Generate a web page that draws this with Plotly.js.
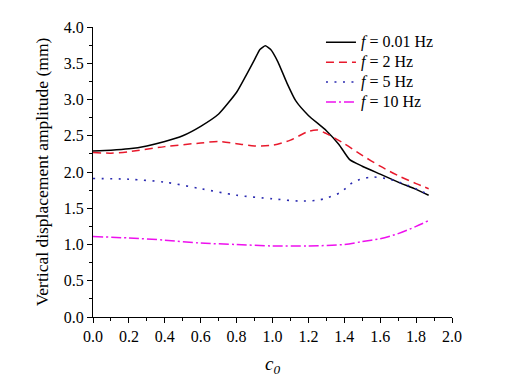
<!DOCTYPE html>
<html>
<head>
<meta charset="utf-8">
<script src="https://cdn.plot.ly/plotly-3.0.1.min.js"></script>
<style>html,body{margin:0;padding:0;background:#fff;}#chart{width:512px;height:377px;}</style>
</head>
<body>
<div id="chart"></div>
<script>
var x001 = [0, 0.1, 0.2, 0.3, 0.4, 0.5, 0.6, 0.7, 0.8, 0.85, 0.9, 0.93, 0.96, 0.99, 1.03, 1.08, 1.13, 1.2, 1.3, 1.37, 1.43, 1.5, 1.6, 1.7, 1.8, 1.87];
var y001 = [2.29, 2.30, 2.32, 2.36, 2.42, 2.50, 2.63, 2.80, 3.10, 3.32, 3.55, 3.69, 3.74, 3.69, 3.52, 3.23, 2.98, 2.78, 2.57, 2.38, 2.17, 2.08, 1.97, 1.86, 1.76, 1.68];
var x2 = [0, 0.1, 0.2, 0.4, 0.6, 0.7, 0.8, 0.9, 1.0, 1.1, 1.2, 1.25, 1.3, 1.4, 1.5, 1.6, 1.7, 1.8, 1.87];
var y2 = [2.27, 2.26, 2.28, 2.35, 2.40, 2.42, 2.39, 2.36, 2.37, 2.44, 2.56, 2.58, 2.53, 2.39, 2.23, 2.08, 1.95, 1.84, 1.77];
var x5 = [0, 0.2, 0.4, 0.6, 0.8, 1.0, 1.15, 1.25, 1.3, 1.38, 1.45, 1.55, 1.65, 1.75, 1.87];
var y5 = [1.91, 1.90, 1.86, 1.77, 1.68, 1.63, 1.60, 1.61, 1.64, 1.72, 1.86, 1.93, 1.90, 1.82, 1.69];
var x10 = [0, 0.2, 0.4, 0.6, 0.8, 1.0, 1.2, 1.4, 1.5, 1.6, 1.7, 1.8, 1.87];
var y10 = [1.11, 1.09, 1.06, 1.02, 1.00, 0.98, 0.98, 1.00, 1.04, 1.08, 1.15, 1.25, 1.33];
var names = ['<i>f</i> = 0.01 Hz', '<i>f</i> = 2 Hz', '<i>f</i> = 5 Hz', '<i>f</i> = 10 Hz'];

var font = "'Liberation Serif', 'Times New Roman', Times, serif";
function big(s) { return '<span style="font-size:16px">' + s + '</span>'; }
var traces = [
  {x: x001, y: y001, name: big(names[0]), mode: 'lines', line: {color: '#000000', width: 1.5, shape: 'spline', smoothing: 0.5}},
  {x: x2, y: y2, name: big(names[1]), mode: 'lines', line: {color: '#e8192c', width: 1.5, dash: '8px,5px', shape: 'spline', smoothing: 0.8}},
  {x: x5, y: y5, name: big(names[2]), mode: 'lines', line: {color: '#2a2ab0', width: 1.6, dash: '2px,6.5px', shape: 'spline', smoothing: 0.8}},
  {x: x10, y: y10, name: big(names[3]), mode: 'lines', line: {color: '#ee10ee', width: 1.5, dash: '10px,3px,2px,3px', shape: 'spline', smoothing: 0.8}}
];

var layout = {
  width: 512, height: 377,
  margin: {l: 92.5, r: 60, t: 26.7, b: 60.3},
  paper_bgcolor: '#ffffff', plot_bgcolor: '#ffffff',
  font: {family: font, size: 16, color: '#000'},
  showlegend: true,
  legend: {x: 0.635, y: 0.999, xanchor: 'left', yanchor: 'top', bgcolor: 'rgba(0,0,0,0)', font: {family: font, size: 13}, tracegroupgap: 0},
  xaxis: {
    range: [0, 2], dtick: 0.2, tick0: 0, tickformat: '.1f',
    showline: true, linecolor: '#000', linewidth: 1, mirror: false,
    ticks: 'outside', ticklen: 5, tickwidth: 1, tickcolor: '#000',
    minor: {dtick: 0.1, ticks: 'outside', ticklen: 3, tickcolor: '#000'},
    showgrid: false, zeroline: false,
    tickfont: {family: font, size: 16},
    title: {text: '<i>c<sub>0</sub></i>', font: {family: font, size: 19}, standoff: 12}
  },
  yaxis: {
    range: [0, 4], dtick: 0.5, tick0: 0, tickformat: '.1f',
    showline: true, linecolor: '#000', linewidth: 1, mirror: false,
    ticks: 'outside', ticklen: 5, tickwidth: 1, tickcolor: '#000',
    minor: {dtick: 0.25, ticks: 'outside', ticklen: 3, tickcolor: '#000'},
    showgrid: false, zeroline: false,
    tickfont: {family: font, size: 16},
    title: {text: 'Vertical displacement amplitude (mm)', font: {family: font, size: 17.5}, standoff: 10}
  }
};

Plotly.newPlot('chart', traces, layout, {displayModeBar: false, staticPlot: true});
</script>
</body>
</html>
